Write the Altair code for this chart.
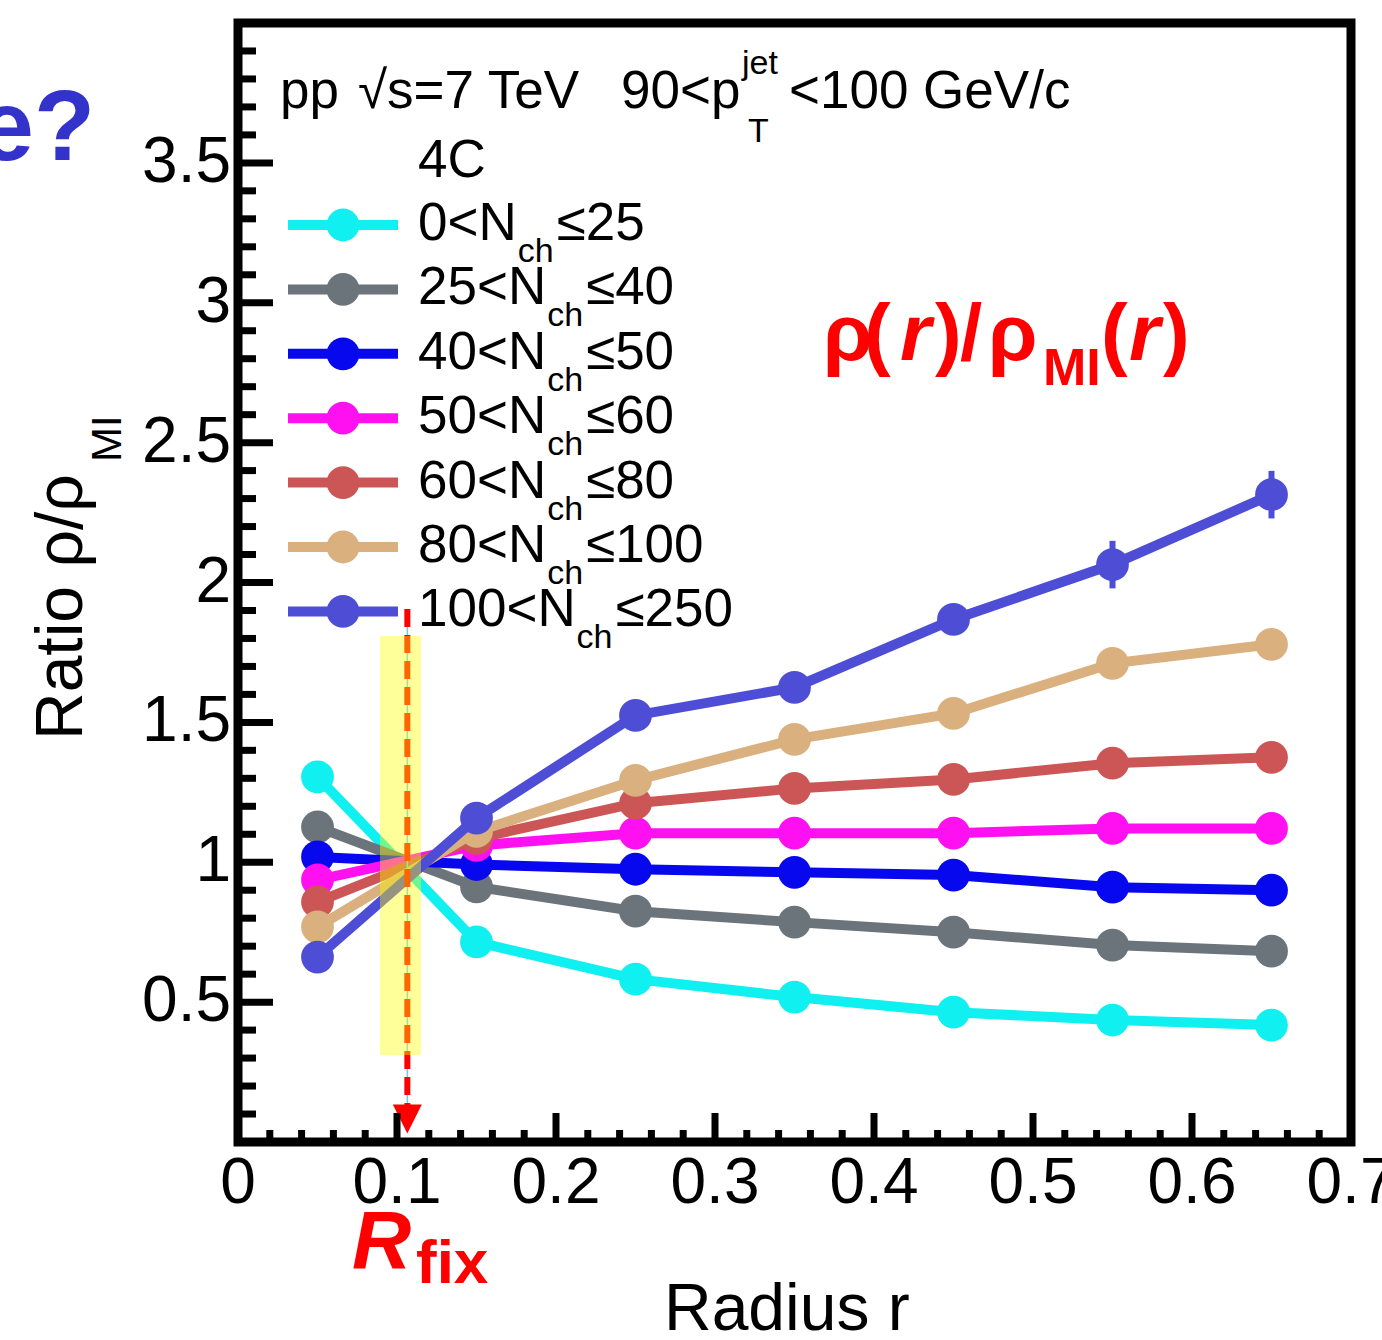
import altair as alt
import pandas as pd

# ---------------- data ----------------
R = [0.05, 0.15, 0.25, 0.35, 0.45, 0.55, 0.65]
N_LOW = ["0", "25", "40", "50", "60", "80", "100"]
N_HIGH = ["25", "40", "50", "60", "80", "100", "250"]
V_0_25 = [1.305, 0.715, 0.582, 0.518, 0.464, 0.436, 0.418]
V_25_40 = [1.126, 0.912, 0.825, 0.786, 0.750, 0.704, 0.682]
V_40_50 = [1.019, 0.992, 0.975, 0.964, 0.954, 0.911, 0.900]
V_50_60 = [0.937, 1.060, 1.104, 1.104, 1.104, 1.121, 1.121]
V_60_80 = [0.858, 1.085, 1.211, 1.264, 1.296, 1.354, 1.375]
V_80_100 = [0.769, 1.110, 1.293, 1.439, 1.532, 1.711, 1.779]
V_100_250 = [0.661, 1.158, 1.525, 1.625, 1.868, 2.064, 2.314]
ERR_100_250 = [0.02, 0.02, 0.03, 0.04, 0.05, 0.085, 0.085]
VALUES = [V_0_25, V_25_40, V_40_50, V_50_60, V_60_80, V_80_100, V_100_250]
COLORS = ["#10f0f0", "#6b737b", "#0808ee", "#ff10f0", "#cc5656", "#d9b07e", "#4d4dd5"]

X_TICKS = [0.0, 0.1, 0.2, 0.3, 0.4, 0.5, 0.6, 0.7]
X_TICK_LABELS = ["0", "0.1", "0.2", "0.3", "0.4", "0.5", "0.6", "0.7"]
Y_TICKS = [0.5, 1.0, 1.5, 2.0, 2.5, 3.0, 3.5]
Y_TICK_LABELS = ["0.5", "1", "1.5", "2", "2.5", "3", "3.5"]
X_MINOR = [round(0.02 * k, 2) for k in range(1, 35) if k % 5 != 0]
Y_MINOR = [round(0.1 * k, 1) for k in range(1, 40) if k % 5 != 0]
X_MAJOR_TICKS = [0.1, 0.2, 0.3, 0.4, 0.5, 0.6]

R_FIX = 0.1065
BAND = [0.0893, 0.1151, 0.311, 1.809]

# ---------------- layout ----------------
W, H = 1113, 1119
OX, OY = 238, 23
FONT = "Liberation Sans"

xs = alt.Scale(domain=[0, 0.7], nice=False, zero=False)
ys = alt.Scale(domain=[0, 4], nice=False, zero=False)


def one():
    return pd.DataFrame({"a": [0]})


def txt(s, X, Y, size, color="black", weight="normal", style="normal",
        align="left", baseline="alphabetic", angle=0):
    return alt.Chart(pd.DataFrame({"t": [s]})).mark_text(
        align=align, baseline=baseline, fontSize=size, font=FONT, color=color,
        fontWeight=weight, fontStyle=style, angle=angle
    ).encode(x=alt.value(X - OX), y=alt.value(Y - OY), text="t:N")


layers = []

# data series
for i, (vals, col) in enumerate(zip(VALUES, COLORS)):
    df = pd.DataFrame({"r": R, "v": vals})
    base = alt.Chart(df).encode(
        x=alt.X("r:Q", scale=xs, axis=None),
        y=alt.Y("v:Q", scale=ys, axis=None),
    )
    layers.append(base.mark_line(color=col, strokeWidth=10))
    if i == 6:
        edf = pd.DataFrame({"r": R,
                            "lo": [v - e for v, e in zip(vals, ERR_100_250)],
                            "hi": [v + e for v, e in zip(vals, ERR_100_250)]})
        layers.append(alt.Chart(edf).mark_rule(color=col, strokeWidth=6).encode(
            x=alt.X("r:Q", scale=xs, axis=None),
            y=alt.Y("lo:Q", scale=ys, axis=None),
            y2="hi:Q"))
    layers.append(base.mark_circle(color=col, size=1075, opacity=1))

# R_fix dashed arrow
arr = pd.DataFrame({"r": [R_FIX], "y0": [1.905], "y1": [0.11], "ya": [0.082]})
layers.append(alt.Chart(arr).mark_rule(color="#66ccff", strokeWidth=1.5).encode(
    x=alt.X("r:Q", scale=xs, axis=None), y=alt.Y("y0:Q", scale=ys, axis=None), y2="y1:Q"))
layers.append(alt.Chart(arr).mark_rule(color="#ff0000", strokeWidth=6, strokeDash=[18, 8]).encode(
    x=alt.X("r:Q", scale=xs, axis=None), y=alt.Y("y0:Q", scale=ys, axis=None), y2="y1:Q"))
layers.append(alt.Chart(arr).mark_point(shape="M-1,-1L1,-1L0,1Z", filled=True, color="#ff0000",
                                        size=840, opacity=1).encode(
    x=alt.X("r:Q", scale=xs, axis=None), y=alt.Y("ya:Q", scale=ys, axis=None)))

# yellow band (on top)
band = pd.DataFrame({"x0": [BAND[0]], "x1": [BAND[1]], "y0": [BAND[2]], "y1": [BAND[3]]})
layers.append(alt.Chart(band).mark_rect(color="#ffff00", opacity=0.4).encode(
    x=alt.X("x0:Q", scale=xs, axis=None), x2="x1:Q",
    y=alt.Y("y0:Q", scale=ys, axis=None), y2="y1:Q"))

# ticks (inside)
layers.append(alt.Chart(pd.DataFrame({"v": Y_TICKS})).mark_rule(color="black", strokeWidth=7).encode(
    y=alt.Y("v:Q", scale=ys, axis=None), x=alt.value(0), x2=alt.value(35)))
layers.append(alt.Chart(pd.DataFrame({"v": Y_MINOR})).mark_rule(color="black", strokeWidth=7).encode(
    y=alt.Y("v:Q", scale=ys, axis=None), x=alt.value(0), x2=alt.value(18)))
layers.append(alt.Chart(pd.DataFrame({"v": X_MAJOR_TICKS})).mark_rule(color="black", strokeWidth=7).encode(
    x=alt.X("v:Q", scale=xs, axis=None), y=alt.value(H), y2=alt.value(H - 29)))
layers.append(alt.Chart(pd.DataFrame({"v": X_MINOR})).mark_rule(color="black", strokeWidth=7).encode(
    x=alt.X("v:Q", scale=xs, axis=None), y=alt.value(H), y2=alt.value(H - 12)))

# tick labels
layers.append(alt.Chart(pd.DataFrame({"v": X_TICKS, "t": X_TICK_LABELS})).mark_text(
    align="center", baseline="top", fontSize=64, font=FONT, color="black").encode(
    x=alt.X("v:Q", scale=xs, axis=None), y=alt.value(H + 10), text="t:N"))
layers.append(alt.Chart(pd.DataFrame({"v": Y_TICKS, "t": Y_TICK_LABELS})).mark_text(
    align="right", baseline="middle", fontSize=64, font=FONT, color="black").encode(
    y=alt.Y("v:Q", scale=ys, axis=None), x=alt.value(-7), text="t:N"))

# axis titles
layers.append(txt("Radius r", 664, 1330, 66))
layers.append(txt("Ratio ρ/ρ", 82, 740, 66, angle=270))
layers.append(txt("MI", 121, 462, 42, angle=270))

# legend header
layers.append(txt("pp", 280, 108, 53))
layers.append(txt("√s=7 TeV", 358, 108, 53))
layers.append(txt("90<p", 621, 108, 53))
layers.append(txt("jet", 742, 74, 34))
layers.append(txt("T", 748, 142, 34))
layers.append(txt("<100 GeV/c", 789, 108, 53))
layers.append(txt("4C", 418, 177, 53))

# legend entries
ADV = {"0": .556, "1": .556, "2": .556, "3": .556, "4": .556, "5": .556, "6": .556,
       "7": .556, "8": .556, "9": .556, "<": .584, "N": .722, "c": .5, "h": .556}
FS, FSUB = 53, 34
for i, (lo, hi, col) in enumerate(zip(N_LOW, N_HIGH, COLORS)):
    base_y = 240 + i * 64.4
    cy = base_y - 15
    layers.append(alt.Chart(one()).mark_rule(color=col, strokeWidth=10).encode(
        x=alt.value(288 - OX), x2=alt.value(398 - OX), y=alt.value(cy - OY)))
    layers.append(alt.Chart(one()).mark_circle(color=col, size=1075, opacity=1).encode(
        x=alt.value(343 - OX), y=alt.value(cy - OY)))
    main = f"{lo}<N"
    x0 = 418
    xsub = x0 + sum(ADV[c] for c in main) * FS + 1
    xrest = xsub + sum(ADV[c] for c in "ch") * FSUB + 3
    layers.append(txt(main, x0, base_y, FS))
    layers.append(txt("ch", xsub, base_y + 22, FSUB))
    layers.append(txt(f"≤{hi}", xrest, base_y, FS))

# red annotation rho(r)/rho_MI(r)
RED = "#ff0000"
for s, X, Y, size, style in [
    ("ρ", 823, 360, 80, "normal"), ("(", 864, 360, 80, "normal"),
    ("r", 900, 360, 80, "italic"), (")", 935, 360, 80, "normal"),
    ("/", 960, 360, 80, "normal"), ("ρ", 988, 360, 80, "normal"),
    ("MI", 1043, 385, 52, "normal"), ("(", 1101, 360, 80, "normal"),
    ("r", 1129, 360, 80, "italic"), (")", 1163, 360, 80, "normal")]:
    layers.append(txt(s, X, Y, size, color=RED, weight="bold", style=style))

# R_fix label
layers.append(txt("R", 352, 1268, 82, color=RED, weight="bold", style="italic"))
layers.append(txt("fix", 416, 1283, 62, color=RED, weight="bold"))

# cut-off slide text
layers.append(txt("e?", 95, 160, 100, color="#3333cc", weight="bold", align="right"))

chart = alt.layer(*layers).properties(
    width=W, height=H,
    padding={"left": OX, "top": OY, "right": 1382 - OX - W, "bottom": 1340 - OY - H},
    autosize=alt.AutoSizeParams(type="none"),
    background="white",
).configure_view(stroke="black", strokeWidth=9)

chart.save("out.html", embed_options={"renderer": "svg", "actions": False})
